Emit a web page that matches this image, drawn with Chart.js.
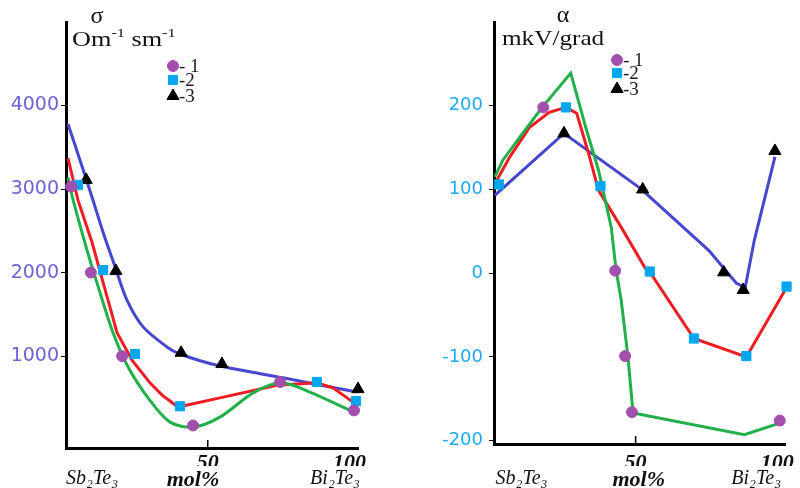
<!DOCTYPE html>
<html>
<head>
<meta charset="utf-8">
<script src="https://cdn.jsdelivr.net/npm/chart.js@4.4.1/dist/chart.umd.min.js"></script>
<style>
  html, body { margin: 0; padding: 0; background: #fff; }
  #wrap { position: relative; width: 800px; height: 488px; }
  canvas { position: absolute; top: 0; }
  #sigma { left: 0; }
  #alpha { left: 400px; }
</style>
</head>
<body>
<div id="wrap">
  <canvas id="sigma" width="400" height="488"></canvas>
  <canvas id="alpha" width="400" height="488"></canvas>
</div>
<script>
// ---- shared axis text ----
const xTicks = [50, 100];
const xNames = ["Sb\u2082Te\u2083", "mol%", "Bi\u2082Te\u2083"];

// ---- sigma panel (conductivity) ----
const sigmaTicks = [1000, 2000, 3000, 4000];
// measured points, samples 1..3
const sigX1 = [1.8, 8.8, 19.8, 44.8, 75.5, 101.6];
const sigY1 = [3030, 2000, 1000, 170, 690, 350];
const sigX2 = [4.2, 13.1, 24.3, 40.2, 88.5, 102.3];
const sigY2 = [3050, 2030, 1025, 400, 690, 460];
const sigX3 = [7.1, 17.6, 40.6, 55.0, 103];
const sigY3 = [3110, 2020, 1040, 905, 605];
// drawn curves (green, red, blue)
const sigFitX1 = [0.7, 2.5, 7.4, 10.9, 16.6, 21.9, 29.6, 36.7, 44.8, 54.3, 66, 75.5, 82.5, 101.6];
const sigFitY1 = [3140, 2870, 2270, 1880, 1280, 870, 470, 210, 150, 270, 560, 680, 620, 330];
const sigFitX2 = [0.7, 4.2, 9.2, 13.1, 18, 23.3, 29.6, 34, 39.5, 54.3, 74.4, 88.5, 94.2, 101.6];
const sigFitY2 = [3370, 2870, 2360, 1880, 1280, 950, 680, 530, 390, 500, 650, 680, 620, 440];
const sigFitX3 = [0.7, 5, 9.5, 13.1, 17.3, 21.5, 27.2, 35.6, 40.2, 53.3, 76.5, 102.6];
const sigFitY3 = [3780, 3340, 2870, 2480, 2070, 1670, 1350, 1110, 1025, 890, 740, 570];

// ---- alpha panel (thermo-emf) ----
const alphaTicks = [-200, -100, 0, 100, 200];
const alpX1 = [17.4, 42.8, 46.3, 48.7, 100.9];
const alpY1 = [198, 3, -99, -166, -176];
const alpX2 = [1.7, 25.4, 37.6, 55.0, 70.6, 89.1, 103.3];
const alpY2 = [106, 198, 104, 2, -78, -99, -16];
const alpX3 = [24.7, 52.5, 81.1, 88.0, 99.2];
const alpY3 = [167, 100, 1, -20, 146];
const alpFitX1 = [0.3, 3.1, 10.1, 17, 27.1, 32.4, 36.9, 41.4, 43.1, 44.9, 47.3, 49.1, 88.4, 100.9];
const alpFitY1 = [115, 135, 167, 198, 239, 174, 123, 55, 4, -32, -100, -167, -193, -179];
const alpFitX2 = [1, 5.6, 12.5, 19.5, 25.4, 29.2, 33.4, 36.9, 44.9, 53.2, 55.3, 70.6, 89.1, 103.3];
const alpFitY2 = [111, 139, 174, 192, 198, 191, 143, 99, 55, 7, 0, -78, -100, -17];
const alpFitX3 = [0.3, 24.7, 51.8, 75.9, 85.6, 88.7, 91.9, 99.2];
const alpFitY3 = [93, 167, 101, 27, -12, -17, 39, 139];

// ---- look ----
const markStyles = ["circle", "rect", "triangle"];
const markColors = ["#a34fae", "#00a6ee", "#000000"];
const markRadius = [5.5, 6.5, 7];
const legendTexts = ["- 1", "-2", "-3"];
const green = "#22b04b", red = "#ee1d23", blue = "#4646cf";

function series(xs, ys) {
  return xs.map((x, i) => ({ x: x, y: ys[i] }));
}

// curve: 0 = straight pieces, "mono" = monotone spline, number = bezier tension
function fitLine(xs, ys, color, curve) {
  return {
    data: series(xs, ys),
    showLine: true,
    borderColor: color,
    backgroundColor: color,
    borderWidth: 3,
    pointRadius: 0,
    tension: curve === "mono" ? 0.4 : curve,
    cubicInterpolationMode: curve === "mono" ? "monotone" : "default",
    order: 2
  };
}

function marks(xs, ys, k) {
  return {
    data: series(xs, ys),
    showLine: false,
    pointStyle: markStyles[k],
    pointRadius: markRadius[k],
    pointBackgroundColor: markColors[k],
    pointBorderColor: markColors[k],
    pointBorderWidth: 1,
    clip: false,
    order: 1
  };
}

// symbol, units, legend and the inner x tick
const decor = {
  id: "decor",
  afterDraw(chart, args, o) {
    const ctx = chart.ctx;
    ctx.save();
    ctx.fillStyle = "#111";
    ctx.textBaseline = "alphabetic";

    ctx.font = "24px 'Liberation Serif'";
    ctx.textAlign = "center";
    ctx.fillText(o.sym, o.symAt[0], o.symAt[1]);

    ctx.textAlign = "left";
    ctx.save();
    ctx.translate(o.unitAt[0], o.unitAt[1]);
    ctx.scale(o.unitScale, 1);
    let ux = 0;
    o.unit.forEach(part => {
      if (part.sup) {
        ctx.font = "13px 'Liberation Serif'";
        ctx.fillText(part.t, ux, -9);
      } else {
        ctx.font = "21px 'Liberation Serif'";
        ctx.fillText(part.t, ux, 0);
      }
      ux += ctx.measureText(part.t).width;
    });
    ctx.restore();

    ctx.font = "19px 'Liberation Serif'";
    o.legendY.forEach((ly, k) => {
      ctx.fillStyle = markColors[k];
      ctx.strokeStyle = markColors[k];
      Chart.helpers.drawPoint(ctx, { pointStyle: markStyles[k], radius: markRadius[k], rotation: 0, borderWidth: 1 }, o.legendX, ly);
      ctx.fillStyle = "#1a1a1a";
      ctx.fillText(legendTexts[k], o.legendX + 6, ly + 6);
    });

    const xs = chart.scales.x;
    const b = chart.chartArea.bottom;
    ctx.strokeStyle = "#000";
    ctx.lineWidth = 1.5;
    xs.ticks.filter(t => t.value < 100).forEach(t => {
      const p = xs.getPixelForValue(t.value);
      ctx.beginPath();
      ctx.moveTo(p, b);
      ctx.lineTo(p, b - 8);
      ctx.stroke();
    });
    ctx.restore();
  }
};

function panel(id, p) {
  return new Chart(document.getElementById(id), {
    type: "scatter",
    data: { datasets: p.datasets },
    plugins: [decor],
    options: {
      responsive: false,
      animation: false,
      layout: { padding: { top: 22, right: p.padRight, left: 0, bottom: 0 } },
      plugins: {
        legend: { display: false },
        tooltip: { enabled: false },
        decor: p.decor
      },
      scales: {
        x: {
          type: "linear", position: "bottom", weight: 0, min: 0, max: 103,
          afterFit: s => { s.height = p.xh; },
          afterBuildTicks: s => { s.ticks = xTicks.map(v => ({ value: v })); },
          grid: { display: false, drawTicks: false },
          border: { display: true, color: "#000", width: 3 },
          ticks: {
            padding: p.xPad, color: "#111", maxRotation: 0, autoSkip: false,
            font: { family: "'Liberation Serif'", size: 22, style: "italic", weight: "bold" },
            callback: v => String(v)
          }
        },
        x2: {
          type: "linear", axis: "x", position: "bottom", weight: 1, min: 0, max: 103,
          afterFit: s => { s.height = 22; },
          afterBuildTicks: s => { s.ticks = p.namePos.map(v => ({ value: v })); },
          grid: { display: false, drawTicks: false },
          border: { display: false },
          ticks: {
            padding: 1, color: "#111", maxRotation: 0, autoSkip: false,
            font: c => ({ family: "'Liberation Serif'", size: c.index === 1 ? 22 : 20, style: "italic", weight: c.index === 1 ? "bold" : "normal" }),
            callback: (v, i) => xNames[i]
          }
        },
        y: {
          type: "linear", min: p.yMin, max: p.yMax,
          afterFit: s => { s.width = p.yw; },
          afterBuildTicks: s => { s.ticks = p.yTicks.map(v => ({ value: v })); },
          grid: { display: true, drawOnChartArea: false, drawTicks: true, tickLength: 5, color: "#000", lineWidth: 1 },
          border: { display: true, color: "#000", width: 3 },
          ticks: {
            padding: p.yPad, color: p.yColor,
            font: { family: "'DejaVu Sans'", size: p.yFont },
            callback: v => String(v)
          }
        }
      }
    }
  });
}

panel("sigma", {
  datasets: [
    fitLine(sigFitX1, sigFitY1, green, 0.3),
    fitLine(sigFitX2, sigFitY2, red, 0),
    fitLine(sigFitX3, sigFitY3, blue, 0.3),
    marks(sigX1, sigY1, 0),
    marks(sigX2, sigY2, 1),
    marks(sigX3, sigY3, 2)
  ],
  padRight: 42, xh: 18, xPad: 2, yw: 66, yPad: 2,
  yMin: -100, yMax: 5000, yTicks: sigmaTicks, yColor: "#6b62d5", yFont: 19,
  namePos: [9.2, 44.8, 94.9],
  decor: {
    sym: "\u03c3", symAt: [97, 23],
    unit: [{ t: "Om" }, { t: "-1", sup: true }, { t: " sm" }, { t: "-1", sup: true }],
    unitAt: [72, 46], unitScale: 1.25,
    legendX: 173, legendY: [66, 80, 96]
  }
});

panel("alpha", {
  datasets: [
    fitLine(alpFitX1, alpFitY1, green, 0),
    fitLine(alpFitX2, alpFitY2, red, 0),
    fitLine(alpFitX3, alpFitY3, blue, 0),
    marks(alpX1, alpY1, 0),
    marks(alpX2, alpY2, 1),
    marks(alpX3, alpY3, 2)
  ],
  padRight: 10, xh: 22, xPad: 6, yw: 94, yPad: 6,
  yMin: -204, yMax: 300, yTicks: alphaTicks, yColor: "#1eaaf0", yFont: 18,
  namePos: [9.7, 51.1, 92.6],
  decor: {
    sym: "\u03b1", symAt: [163, 22],
    unit: [{ t: "mkV/grad" }],
    unitAt: [102, 45], unitScale: 1.2,
    legendX: 217, legendY: [60, 73, 89]
  }
});
</script>
</body>
</html>
